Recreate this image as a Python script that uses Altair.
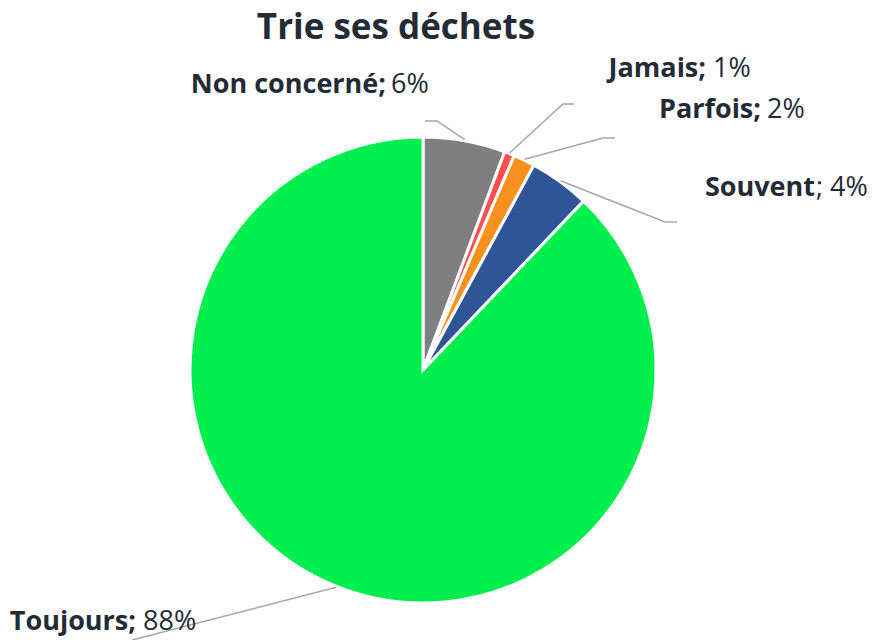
import altair as alt
import numpy as np
import pandas as pd

# ---- data ----
categories = ["Non concerné", "Jamais", "Parfois", "Souvent", "Toujours"]
values = [5.7, 0.7, 1.5, 4.2, 87.9]
colors = ["#7F7F7F", "#FF4F4F", "#F7901E", "#2F5597", "#00EF4F"]
title_text = "Trie ses déchets"

# ---- layout (plot-area pixels) ----
W, H = 860, 632
CX, CY, R = 415, 362, 233
TEXT = "#222B36"
FONT = "Open Sans"
# label split point (end of bold part / start of regular part) and baseline
label_layout = {
    "Non concerné": dict(bx=378, rx=383, y=85, bold="Non concerné;", reg="6%"),
    "Jamais": dict(bx=698, rx=705, y=69, bold="Jamais;", reg="1%"),
    "Parfois": dict(bx=753, rx=759, y=110, bold="Parfois;", reg="2%"),
    "Souvent": dict(bx=807, rx=808, y=188, bold="Souvent", reg="; 4%"),
    "Toujours": dict(bx=128, rx=135, y=622, bold="Toujours;", reg="88%"),
}
leader_layout = {
    "Non concerné": [(429, 113), (417, 113)],
    "Jamais": [(555, 96), (566, 96)],
    "Parfois": [(595, 130), (607, 130)],
    "Souvent": [(657, 214), (669, 214)],
    "Toujours": [(124, 632), (124, 632)],
}

vals = np.array(values, dtype=float)
pct = vals / vals.sum()
mid = np.cumsum(pct) - pct / 2
ang = 2 * np.pi * mid

df = pd.DataFrame({"cat": categories, "value": values, "idx": range(len(categories))})

lab_rows = []
for c in categories:
    L = label_layout[c]
    lab_rows.append({"cat": c, "bx": L["bx"], "rx": L["rx"], "y": L["y"],
                     "bold": L["bold"], "reg": L["reg"]})
labels = pd.DataFrame(lab_rows)

line_rows = []
RL = R + 1
for c, a in zip(categories, ang):
    sx = CX + RL * np.sin(a)
    sy = CY - RL * np.cos(a)
    line_rows.append({"cat": c, "k": 0, "x": sx, "y": sy})
    for k, (px, py) in enumerate(leader_layout[c], start=1):
        line_rows.append({"cat": c, "k": k, "x": px, "y": py})
lines = pd.DataFrame(line_rows)

xs = alt.Scale(domain=[0, W], nice=False, zero=False)
ys = alt.Scale(domain=[0, H], nice=False, zero=False, reverse=True)

pie = alt.Chart(df).mark_arc(outerRadius=R, stroke="white", strokeWidth=3).encode(
    theta=alt.Theta("value:Q", stack=True),
    color=alt.Color("cat:N", scale=alt.Scale(domain=categories, range=colors), legend=None),
    order=alt.Order("idx:Q"),
    x=alt.value(CX),
    y=alt.value(CY),
)

leaders = alt.Chart(lines).mark_line(color="#A6A6A6", strokeWidth=1.5).encode(
    x=alt.X("x:Q", scale=xs, axis=None),
    y=alt.Y("y:Q", scale=ys, axis=None),
    detail="cat:N",
    order="k:Q",
)

bold_txt = alt.Chart(labels).mark_text(
    font=FONT, fontSize=27, fontWeight="bold", color=TEXT, align="right", baseline="alphabetic"
).encode(
    x=alt.X("bx:Q", scale=xs, axis=None),
    y=alt.Y("y:Q", scale=ys, axis=None),
    text="bold:N",
)

reg_txt = alt.Chart(labels).mark_text(
    font=FONT, fontSize=27, fontWeight="normal", color=TEXT, align="left", baseline="alphabetic"
).encode(
    x=alt.X("rx:Q", scale=xs, axis=None),
    y=alt.Y("y:Q", scale=ys, axis=None),
    text="reg:N",
)

title = alt.Chart(pd.DataFrame({"t": [title_text]})).mark_text(
    font=FONT, fontSize=35, fontWeight="bold", color=TEXT, align="center", baseline="alphabetic"
).encode(
    x=alt.value(388),
    y=alt.value(31),
    text="t:N",
)

chart = alt.layer(pie, leaders, bold_txt, reg_txt, title).properties(
    width=W, height=H, padding=0, autosize=alt.AutoSizeParams(type="none")
).configure_view(stroke=None)

chart.save("out.html", embed_options={"renderer": "svg", "actions": False})
